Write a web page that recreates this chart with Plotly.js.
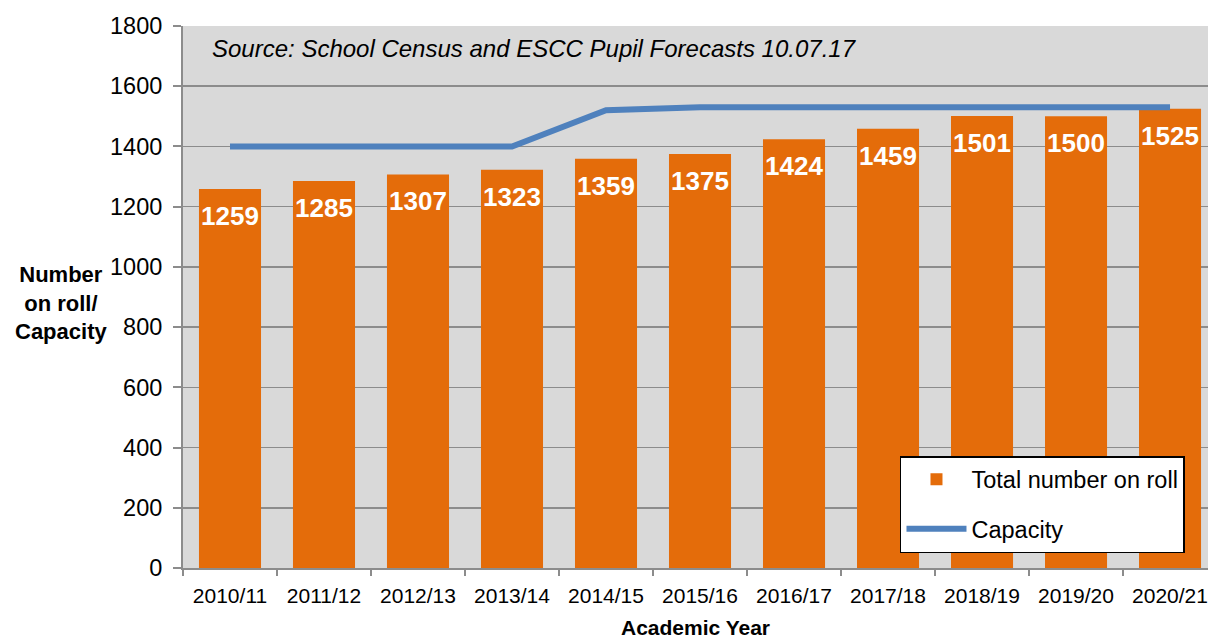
<!DOCTYPE html>
<html>
<head>
<meta charset="utf-8">
<script src="https://cdn.plot.ly/plotly-3.0.1.min.js"></script>
<style>
html,body{margin:0;padding:0;overflow:hidden;background:#fff;}
#chart{width:1208px;height:639px;}
</style>
</head>
<body>
<div id="chart"></div>
<script>
const years = ["2010/11","2011/12","2012/13","2013/14","2014/15","2015/16","2016/17","2017/18","2018/19","2019/20","2020/21"];
const onRoll = [1259,1285,1307,1323,1359,1375,1424,1459,1501,1500,1525];
const capacity = [1400,1400,1400,1400,1520,1530,1530,1530,1530,1530,1530];
const yTicks = [0,200,400,600,800,1000,1200,1400,1600,1800];

const FONT = "Arial, 'Liberation Sans', sans-serif";

const traces = [
  {
    type: "bar", x: years, y: onRoll, name: "Total number on roll",
    marker: {color: "#e46c0a"}, legendgroup: "a", hoverinfo: "skip"
  },
  {
    type: "scatter", mode: "lines", x: years, y: capacity, name: "Capacity",
    line: {color: "#4f81bd", width: 6}, legendgroup: "b", hoverinfo: "skip"
  }
];

const labelAnns = years.map((c, i) => ({
  x: c, y: onRoll[i], xref: "x", yref: "y", text: String(onRoll[i]),
  showarrow: false, yshift: -27,
  font: {family: FONT, size: 26, color: "#ffffff", weight: "bold"}
}));

const layout = {
  width: 1208, height: 639,
  margin: {l: 183, r: 0, t: 26, b: 71, pad: 0},
  paper_bgcolor: "#ffffff", plot_bgcolor: "#d9d9d9",
  font: {family: FONT, color: "#000000"},
  bargap: 0.34,
  showlegend: true,
  legend: {
    x: 0.6995, y: 0.2066, xanchor: "left", yanchor: "top",
    bgcolor: "#ffffff", bordercolor: "#000000", borderwidth: 1.5,
    font: {family: FONT, size: 23.5, color: "#000000"},
    traceorder: "grouped", tracegroupgap: 16, itemwidth: 60
  },
  xaxis: {
    type: "category", range: [-0.5, 10.404],
    showgrid: false, showline: true, linecolor: "#8c8c8c", linewidth: 2,
    ticks: "outside", tickson: "boundaries", ticklen: 6, tickcolor: "#8c8c8c", tickwidth: 2,
    ticklabelstandoff: 8,
    tickfont: {family: FONT, size: 21, color: "#000000"},
    title: {text: "Academic Year", font: {family: FONT, size: 21, color: "#000000", weight: "bold"}, standoff: 14},
    fixedrange: true
  },
  yaxis: {
    range: [0, 1800], tickvals: yTicks, ticktext: yTicks.map(String),
    showgrid: true, gridcolor: "#8c8c8c", gridwidth: 1.5,
    showline: true, linecolor: "#8c8c8c", linewidth: 2,
    ticks: "outside", ticklen: 8, tickcolor: "#8c8c8c", tickwidth: 2,
    ticklabelstandoff: 6,
    tickfont: {family: FONT, size: 23.5, color: "#000000"},
    zeroline: false, fixedrange: true
  },
  annotations: labelAnns.concat([
    {
      xref: "paper", yref: "paper", x: (210-183)/1025, y: (568-48)/542,
      xanchor: "left", yanchor: "middle", showarrow: false,
      text: "Source: School Census and ESCC Pupil Forecasts 10.07.17",
      font: {family: FONT, size: 24, color: "#000000", style: "italic"}
    },
    {
      xref: "paper", yref: "paper", x: (61-183)/1025, y: (568-303)/542,
      xanchor: "center", yanchor: "middle", showarrow: false, align: "center",
      text: "Number<br>on roll/<br>Capacity",
      font: {family: FONT, size: 22, color: "#000000", weight: "bold"}
    }
  ])
};

Plotly.newPlot("chart", traces, layout, {displayModeBar: false, staticPlot: true});
</script>
</body>
</html>
